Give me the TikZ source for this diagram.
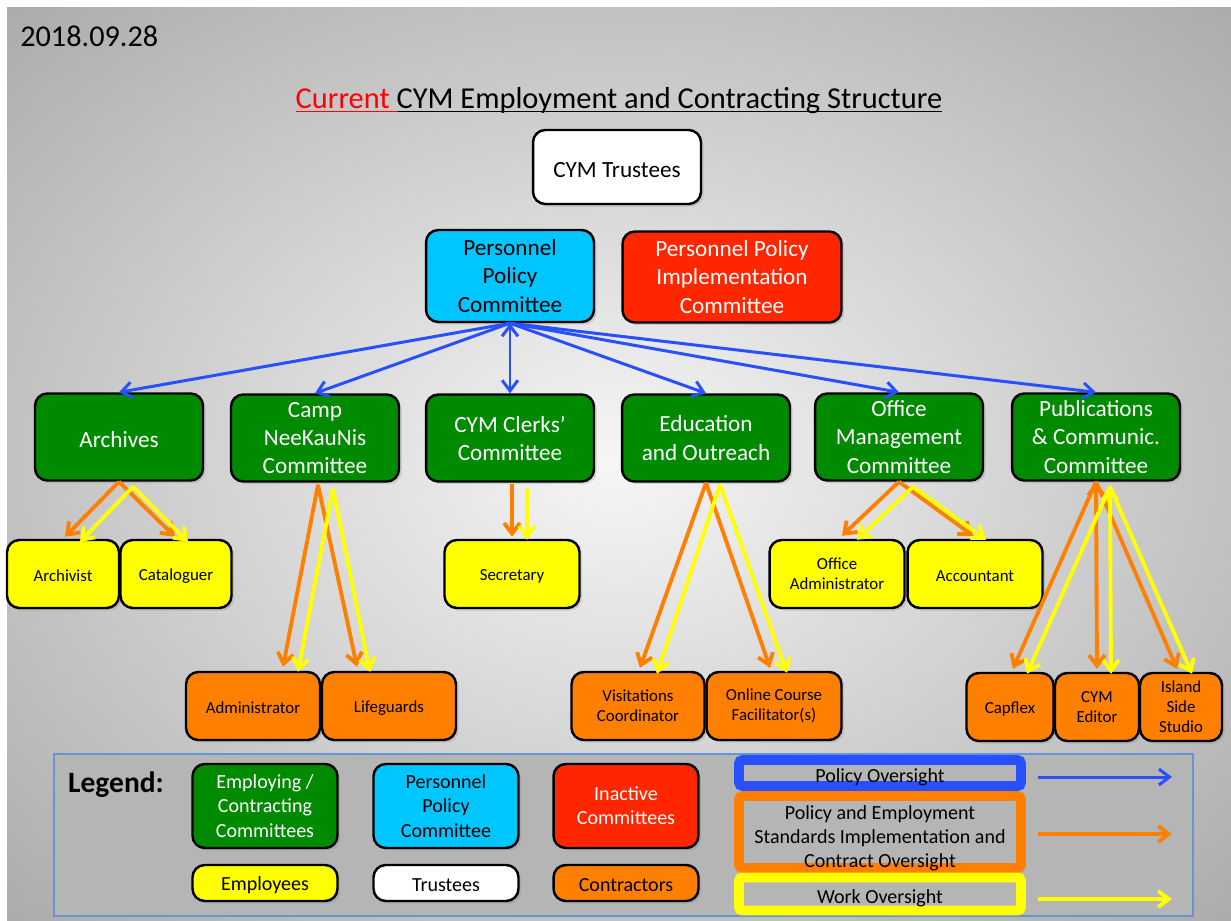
\documentclass[tikz,border=0pt]{standalone}
\usepackage{fontspec}
\setmainfont{Carlito}
\usetikzlibrary{arrows.meta,calc,shadows}

\definecolor{comgreen}{RGB}{0,138,0}
\definecolor{ppcyan}{RGB}{0,198,255}
\definecolor{inactred}{RGB}{255,38,0}
\definecolor{empyellow}{RGB}{255,255,0}
\definecolor{conorange}{RGB}{255,128,0}
\definecolor{polblue}{RGB}{40,80,255}
\definecolor{legline}{RGB}{100,150,210}
\definecolor{legfill}{RGB}{181,181,181}
\definecolor{bgin}{RGB}{246,246,246}
\definecolor{bgout}{RGB}{170,170,170}

\pgfdeclareradialshading{bgshade}{\pgfpoint{0bp}{0bp}}{color(0bp)=(bgin); color(36bp)=(bgout); color(50bp)=(bgout)}

\newcommand\boxfont{\fontsize{13.2}{16}\selectfont}
\newcommand\smallboxfont{\fontsize{9.6}{11.4}\selectfont}
\newcommand\legfont{\fontsize{11.4}{13.8}\selectfont}
\newcommand\titleline[1]{\underline{\smash{#1}\vphantom{A}}}

\tikzset{
  box/.style={rectangle, rounded corners=7pt, draw=black, line width=1.4pt,
    align=center, inner sep=2pt, execute at begin node={\rule{0pt}{0.9em}},
    drop shadow={opacity=0.25, shadow xshift=1.5pt, shadow yshift=-1.5pt}},
  bigbox/.style={box, font=\boxfont, minimum width=3.36cm, minimum height=1.74cm},
  comm/.style={bigbox, fill=comgreen, text=white},
  emp/.style={box, fill=empyellow, font=\smallboxfont, minimum height=1.36cm},
  con/.style={box, fill=conorange, font=\smallboxfont, minimum height=1.36cm},
  legbox/.style={box, font=\legfont, minimum width=2.9cm},
  legframe/.style={rectangle, rounded corners=2pt, line width=5.6pt, fill=legfill,
    minimum width=5.64cm},
  legtext/.style={font=\legfont, align=center, yshift=-2.3pt},
  policy/.style={->, draw=polblue, line width=1.7pt},
  contract/.style={->, draw=conorange, line width=2.2pt},
  workline/.style={->, draw=empyellow, line width=2.2pt}
}

\begin{document}
\begin{tikzpicture}[x=0.02cm, y=-0.02cm, >={Straight Barb[length=6pt,width=9pt]}]
	\useasboundingbox (0,0) rectangle (1231,920);
	\shade[shading=bgshade] (7,7) rectangle (1231,920);

	% heading
	\node[anchor=west, inner sep=0pt, font=\fontsize{17.2}{20}\selectfont] (date) at (20,36) {2018.09.28};
	\node[font=\fontsize{17.3}{20}\selectfont] (title) at (619,101)
		{\textcolor{red}{\titleline{Current\ }}\titleline{CYM Employment and Contracting Structure}};

	% top
	\node[bigbox, fill=white, minimum height=1.48cm] (trust) at (617,167) {CYM Trustees};
	\node[bigbox, fill=ppcyan, minimum height=1.84cm] (ppc) at (510,276) {Personnel\\Policy\\Committee};
	\node[bigbox, fill=inactred, text=white, minimum width=4.38cm, minimum height=1.82cm] (ppic) at (732,277)
		{Personnel Policy\\Implementation\\Committee};

	% committees
	\node[comm] (arch)  at (119,437)  {Archives};
	\node[comm] (camp)  at (315,438)  {Camp\\NeeKauNis\\Committee};
	\node[comm] (clerk) at (510,438)  {CYM Clerks’\\Committee};
	\node[comm] (educ)  at (706,438)  {Education\\and Outreach};
	\node[comm] (offm)  at (899,437)  {Office\\Management\\Committee};
	\node[comm] (publ)  at (1096,437) {Publications\\\& Communic.\\Committee};

	% employees
	\node[emp, minimum width=2.24cm] (arvst)  at (63,574)  {Archivist};
	\node[emp, minimum width=2.22cm] (catl)   at (176,574) {Cataloguer};
	\node[emp, minimum width=2.7cm]  (secr)   at (512,574) {Secretary};
	\node[emp, minimum width=2.7cm]  (offadm) at (837,574) {Office\\Administrator};
	\node[emp, minimum width=2.7cm]  (acct)   at (975,574) {Accountant};

	% contractors
	\node[con, minimum width=2.68cm] (admin)  at (253,706)  {Administrator};
	\node[con, minimum width=2.68cm] (lifeg)  at (389,706)  {Lifeguards};
	\node[con, minimum width=2.66cm] (visit)  at (638,706)  {Visitations\\Coordinator};
	\node[con, minimum width=2.7cm]  (online) at (774,706)  {Online Course\\Facilitator(s)};
	\node[con, minimum width=1.74cm] (capf)   at (1010,707) {Capflex};
	\node[con, minimum width=1.68cm] (edit)   at (1097,707) {CYM\\Editor};
	\node[con, minimum width=1.64cm] (isl)    at (1181,707) {Island\\Side\\Studio};

	% policy oversight
	\path[policy]
		(ppc.south) edge (arch.north)
		(ppc.south) edge (camp.north)
		(ppc.south) edge (clerk.north)
		(ppc.south) edge (educ.north)
		(ppc.south) edge (offm.north)
		(ppc.south) edge (publ.north);

	% contract oversight
	\path[contract]
		(arch.south) edge ($(arvst.north)+(2,-2)$)
		(arch.south) edge ($(catl.north)+(-1,-2)$)
		($(camp.south)+(3,2)$) edge ($(admin.north)+(30,-4)$)
		($(camp.south)+(3,2)$) edge ($(lifeg.north)+(-32,-4)$)
		($(clerk.south)+(2,1)$) edge ($(secr.north)+(0,-2)$)
		(educ.south) edge ($(visit.north)+(2,-3)$)
		(educ.south) edge ($(online.north)+(-4,-3)$)
		(offm.south) edge ($(offadm.north)+(5,-3)$)
		(offm.south) edge ($(acct.north)+(-2,-3)$)
		(publ.south) edge ($(capf.north)+(3,-3)$)
		(publ.south) edge ($(edit.north)+(0,-3)$)
		(publ.south) edge ($(isl.north)+(-4,-3)$);

	% work oversight
	\path[workline]
		($(arch.south)+(14,5)$) edge ($(arvst.north)+(17,3)$)
		($(arch.south)+(14,5)$) edge ($(catl.north)+(12,3)$)
		($(camp.south)+(18,6)$) edge ($(admin.north)+(45,1)$)
		($(camp.south)+(18,6)$) edge ($(lifeg.north)+(-19,1)$)
		($(clerk.south)+(17,5)$) edge ($(secr.north)+(15,1)$)
		($(educ.south)+(14,2)$) edge ($(visit.north)+(19,3)$)
		($(educ.south)+(14,2)$) edge ($(online.north)+(13,2)$)
		($(offm.south)+(14,5)$) edge ($(offadm.north)+(20,1)$)
		($(offm.south)+(14,5)$) edge ($(acct.north)+(11,1)$)
		($(publ.south)+(14,5)$) edge ($(capf.north)+(17,2)$)
		($(publ.south)+(14,5)$) edge ($(edit.north)+(14,2)$)
		($(publ.south)+(14,5)$) edge ($(isl.north)+(11,2)$);

	% legend
	\draw[legline, line width=1.2pt, fill=legfill] (54,754) rectangle (1193,916);
	\node[font=\fontsize{16.8}{20}\selectfont\bfseries] (legtitle) at (116,785) {Legend:};
	\node[legbox, fill=comgreen, text=white, minimum height=1.68cm] (lgcomm) at (265,806) {Employing /\\Contracting\\Committees};
	\node[legbox, fill=ppcyan, minimum height=1.68cm] (lgppc) at (446,806) {Personnel\\Policy\\Committee};
	\node[legbox, fill=inactred, text=white, minimum height=1.68cm] (lginact) at (626,806) {Inactive\\Committees};
	\node[legbox, fill=empyellow, minimum height=0.72cm] (lgemp) at (265,883) {Employees};
	\node[legbox, fill=white, minimum height=0.72cm] (lgtrust) at (446,883) {Trustees};
	\node[legbox, fill=conorange, minimum height=0.72cm] (lgcon) at (626,883) {Contractors};

	\node[legframe, draw=polblue, minimum height=0.52cm,
		label={[legtext]center:Policy Oversight}] (lpol) at (880,773) {};
	\node[legframe, draw=conorange, minimum height=1.44cm,
		label={[legtext, yshift=-1.4pt]center:{Policy and Employment\\Standards Implementation and\\Contract Oversight}}] (lcon) at (880,832) {};
	\node[legframe, draw=empyellow, minimum height=0.66cm,
		label={[legtext]center:Work Oversight}] (lwork) at (880,894) {};

	\coordinate (pa) at (1038,777);
	\coordinate (pb) at (1172,777);
	\coordinate (ca) at (1038,834);
	\coordinate (cb) at (1172,834);
	\coordinate (wa) at (1038,899);
	\coordinate (wb) at (1172,899);
	\draw[policy] (pa) -- (pb);
	\draw[contract] (ca) -- (cb);
	\draw[workline] (wa) -- (wb);
\end{tikzpicture}
\end{document}
